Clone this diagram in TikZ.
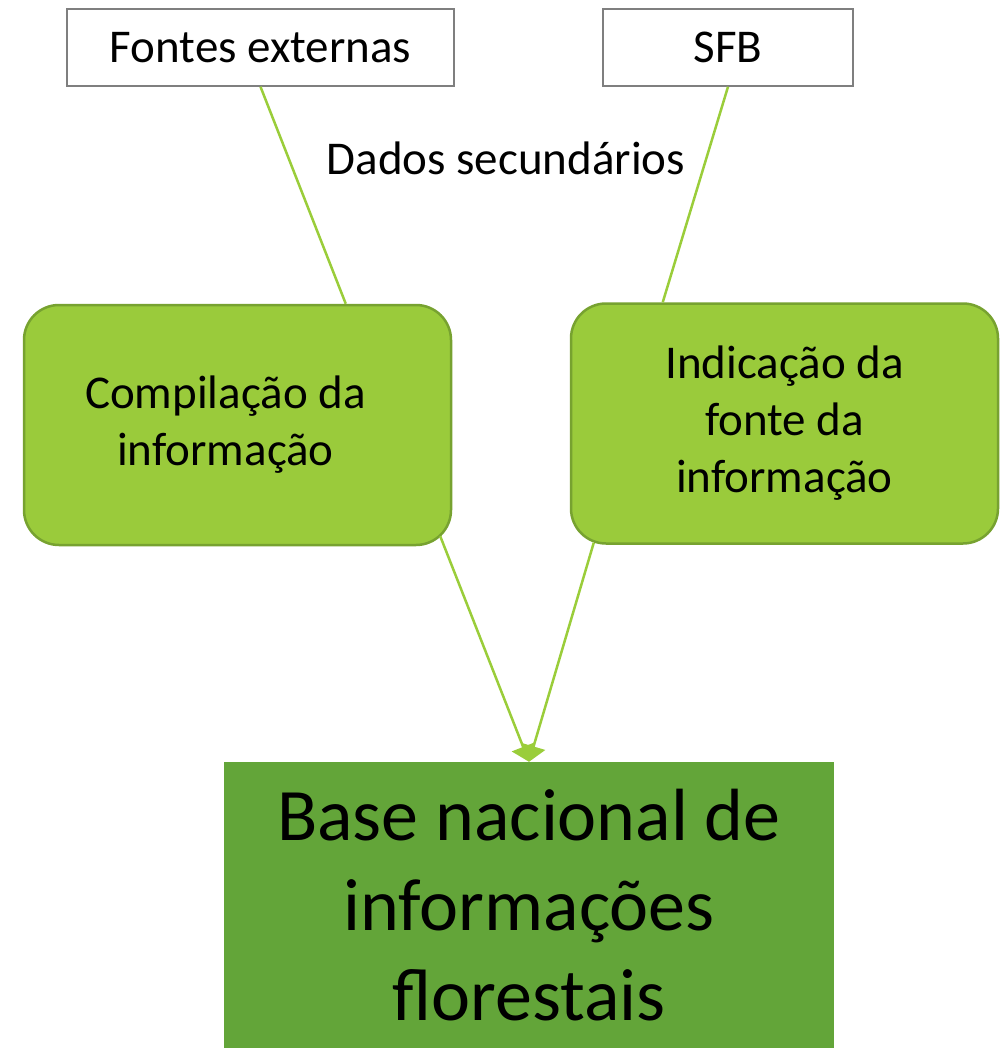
\documentclass[tikz,border=0pt]{standalone}
\usepackage{fontspec}
\setmainfont{Carlito}
\usetikzlibrary{arrows.meta,calc}
\definecolor{lgreen}{HTML}{9ACB3B}
\definecolor{lgborder}{HTML}{77A230}
\definecolor{bgreen}{HTML}{63A539}
\definecolor{lnk}{HTML}{9ACD3A}
\definecolor{grayb}{HTML}{7F7F7F}
\tikzset{
  srcbox/.style={draw=grayb, line width=1.5pt, fill=white, minimum height=77pt, inner sep=0pt, font=\fontsize{47}{57}\selectfont},
  procbox/.style={draw=lgborder, line width=2.5pt, fill=lgreen, rounded corners=35pt, minimum width=427pt, minimum height=240pt, align=center, inner sep=0pt, font=\fontsize{47}{57}\selectfont},
  basebox/.style={fill=bgreen, minimum width=610pt, minimum height=286pt, align=center, inner sep=0pt, font=\fontsize{74}{90}\selectfont},
  link/.style={draw=lnk, line width=2.5pt},
  arrowlink/.style={link, -{Triangle[width=24pt,length=16pt]}}
}
\begin{document}
\begin{tikzpicture}[x=1pt,y=-1pt]
\useasboundingbox (0,0) rectangle (1003,1048);
\node[srcbox, minimum width=387pt] (fe) at (260.5,47.5) {Fontes externas};
\node[srcbox, minimum width=250pt] (sfb) at (728,47.5) {SFB};
\node[procbox] (comp) at (237.5,425) {Compilação da\hspace*{24pt}\\informação\hspace*{24pt}};
\node[procbox] (ind) at (784.5,423.5) {Indicação da\\fonte da\\informação};
\node[basebox] (base) at (529,905) {Base nacional de\\informações\\florestais};
\node[font=\fontsize{47}{57}\selectfont, inner sep=0pt] (dados) at (506,158) {Dados secundários};
\coordinate (compin) at ($(comp.north west)+(323,0)$);
\coordinate (indin) at ($(ind.north west)+(93,0)$);
\coordinate (compout) at ($(comp.south east)+(-12,-10)$);
\coordinate (indout) at ($(ind.south west)+(24,-2)$);
\draw[link] (fe.south) -- (compin);
\draw[link] (sfb.south) -- (indin);
\draw[arrowlink] (compout) -- (base.north);
\draw[arrowlink] (indout) -- (base.north);
\end{tikzpicture}
\end{document}
